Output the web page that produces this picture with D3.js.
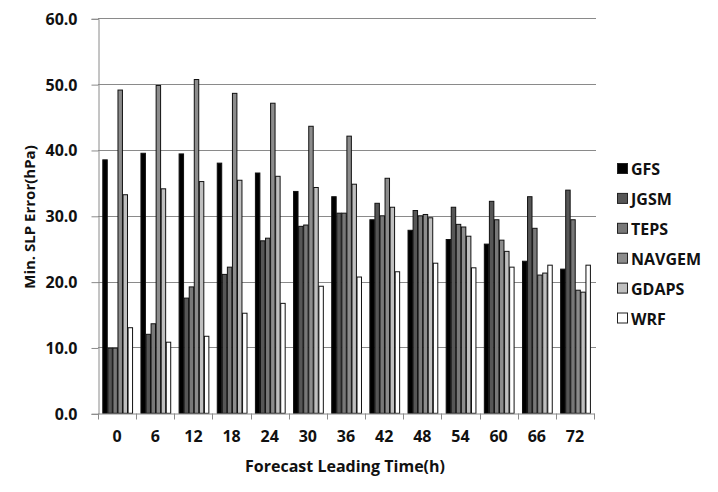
<!DOCTYPE html>
<html>
<head>
<meta charset="utf-8">
<script src="https://cdn.jsdelivr.net/npm/d3@7"></script>
<style>
  html, body { margin: 0; padding: 0; background: #fff; }
  svg { display: block; }
  text { font-family: "Open Sans", "Liberation Sans", sans-serif; font-weight: bold; fill: #111; }
</style>
</head>
<body>
<svg id="chart" width="718" height="492"></svg>
<script>
const categories = ["0", "6", "12", "18", "24", "30", "36", "42", "48", "54", "60", "66", "72"];
const seriesNames = ["GFS", "JGSM", "TEPS", "NAVGEM", "GDAPS", "WRF"];
const GFS    = [38.5, 39.5, 39.4, 38.0, 36.5, 33.7, 32.9, 29.4, 27.8, 26.4, 25.7, 23.1, 21.9];
const JGSM   = [9.9, 12.0, 17.5, 21.1, 26.2, 28.4, 30.4, 31.9, 30.8, 31.3, 32.2, 32.9, 33.9];
const TEPS   = [9.9, 13.6, 19.2, 22.2, 26.6, 28.6, 30.4, 30.0, 30.0, 28.7, 29.4, 28.1, 29.4];
const NAVGEM = [49.1, 49.8, 50.7, 48.6, 47.1, 43.6, 42.1, 35.7, 30.2, 28.3, 26.3, 21.0, 18.7];
const GDAPS  = [33.2, 34.1, 35.2, 35.4, 36.0, 34.3, 34.8, 31.3, 29.7, 26.9, 24.6, 21.3, 18.4];
const WRF    = [13.0, 10.8, 11.7, 15.2, 16.7, 19.3, 20.7, 21.5, 22.8, 22.1, 22.2, 22.5, 22.5];
const yTicks = [0, 10, 20, 30, 40, 50, 60];
const colors = ["#000000", "#565656", "#787878", "#8c8c8c", "#bfbfbf", "#ffffff"];

const seriesValues = [GFS, JGSM, TEPS, NAVGEM, GDAPS, WRF];
const data = categories.map((c, i) => ({cat: c, values: seriesValues.map(s => s[i])}));

const svg = d3.select("#chart");
const pLeft = 98, pRight = 594, pTop = 18.3, pBottom = 413.3;

const x = d3.scaleBand().domain(categories).range([pLeft, pRight]).paddingInner(0).paddingOuter(0);
const xInner = d3.scaleBand().domain(seriesNames).range([0.4, x.bandwidth() + 0.4]).paddingOuter(0.77).paddingInner(0);
const y = d3.scaleLinear().domain([0, 60]).range([pBottom, pTop]);

// gridlines
svg.append("g").selectAll("line").data(yTicks.filter(t => t > 0)).join("line")
  .attr("x1", pLeft).attr("x2", pRight + 2)
  .attr("y1", d => Math.round(y(d)) + 0.5).attr("y2", d => Math.round(y(d)) + 0.5)
  .attr("stroke", "#8a8a8a").attr("stroke-width", 1);

// y axis
const yAxis = d3.axisLeft(y).tickValues(yTicks).tickFormat(d3.format(".1f")).tickSize(7).tickPadding(14);
const gy = svg.append("g").attr("transform", `translate(${pLeft + 0.5},0.5)`).call(yAxis);
gy.select(".domain").attr("stroke", "#8a8a8a");
gy.selectAll(".tick line").attr("stroke", "#8a8a8a");
gy.selectAll(".tick text").style("font-size", "16px").attr("fill", "#111").attr("dy", "0.34em");

// bars
const groups = svg.append("g").selectAll("g").data(data).join("g")
  .attr("transform", d => `translate(${x(d.cat)},0)`);
groups.selectAll("rect").data(d => d.values.map((v, i) => ({v, s: seriesNames[i], i}))).join("rect")
  .attr("x", d => xInner(d.s) + 0.5)
  .attr("y", d => y(d.v))
  .attr("width", xInner.bandwidth() - 0.6)
  .attr("height", d => y(0) - y(d.v))
  .attr("fill", d => colors[d.i])
  .attr("stroke", "#111")
  .attr("stroke-width", 1);

// x axis
const xAxis = d3.axisBottom(x).tickSize(0).tickPadding(17);
const gx = svg.append("g").attr("transform", `translate(0,${Math.round(pBottom) + 0.5})`).call(xAxis);
gx.select(".domain").attr("stroke", "#8a8a8a");
gx.selectAll(".tick text").style("font-size", "16px").attr("fill", "#111");
// category boundary ticks
const bounds = categories.map(c => x(c)).concat([pRight]);
gx.append("g").selectAll("line").data(bounds).join("line")
  .attr("x1", d => Math.round(d) + 0.5).attr("x2", d => Math.round(d) + 0.5)
  .attr("y1", 0).attr("y2", 6).attr("stroke", "#8a8a8a");

// axis titles
svg.append("text").attr("x", 345).attr("y", 466).attr("text-anchor", "middle")
  .attr("dominant-baseline", "central").style("font-size", "16px").text("Forecast Leading Time(h)");
svg.append("text").attr("transform", "translate(29,217) rotate(-90)").attr("text-anchor", "middle")
  .attr("dominant-baseline", "central").style("font-size", "15px").text("Min. SLP Error(hPa)");

// legend
const legend = svg.append("g").selectAll("g").data(seriesNames).join("g")
  .attr("transform", (d, i) => `translate(617,${169 + i * 29.9})`);
legend.append("rect").attr("x", 0.5).attr("y", -5.5).attr("width", 10).attr("height", 10)
  .attr("fill", (d, i) => colors[i]).attr("stroke", "#222");
legend.append("text").attr("x", 14).attr("y", 0).attr("dominant-baseline", "central")
  .style("font-size", "16px").text(d => d);
</script>
</body>
</html>
